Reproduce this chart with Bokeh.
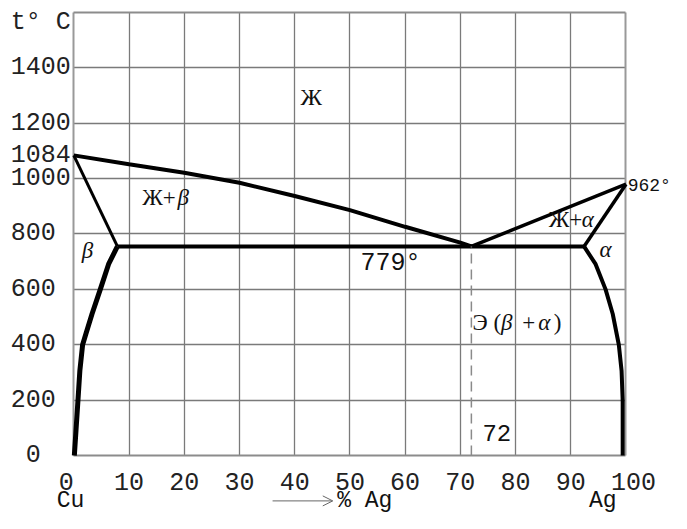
from bokeh.plotting import figure
from bokeh.models import FixedTicker, Label, Arrow, OpenHead, Range1d, Grid
from bokeh.embed import file_html
from bokeh.resources import INLINE

# ---- data ----
liq_cu_x = [0, 10, 20, 30, 40, 50, 60, 70, 72]
liq_cu_t = [1084, 1052, 1021, 985, 937, 886, 826, 769, 755]
sol_cu_x = [0, 7.9]
sol_cu_t = [1084, 755]
eut_x = [7.9, 92.4]
eut_t = [755, 755]
liq_ag_x = [72, 100]
liq_ag_t = [755, 980]
sol_ag_x = [100, 92.4]
sol_ag_t = [980, 755]
solv_b_x = [7.9, 6.3, 4.8, 3.3, 2.2, 1.6, 1.1, 0.76, 0.4, 0.1]
solv_b_t = [755, 691, 600, 511, 440, 400, 306, 200, 90, 0]
solv_a_x = [92.4, 94.5, 96.3, 97.6, 98.7, 99.2, 99.4, 99.4]
solv_a_t = [755, 691, 600, 511, 400, 306, 200, 0]
eut_comp_x = [72, 72]
eut_comp_t = [0, 755]
x_ticks = [0, 10, 20, 30, 40, 50, 60, 70, 80, 90, 100]
x_grid = [10, 20, 30, 40, 50, 60, 70, 80, 90]
y_ticks = [0, 200, 400, 600, 800, 1000, 1084, 1200, 1400]
y_grid = [200, 400, 600, 800, 1000, 1200, 1400]
x_bounds = [0, 100]
t_bounds = [0, 1600]
t_title_pos = 1565
t_title = "t° C"

MONO = "Liberation Mono"
SERIF = "Liberation Serif"
NB = "\u00a0"  # non-breaking space, used only to nudge tick-label alignment

p = figure(width=671, height=513,
           x_range=Range1d(-13.27, 108.24), y_range=Range1d(-209.5, 1643.3),
           output_backend="svg", toolbar_location=None, min_border=0)
p.background_fill_color = "white"
p.border_fill_color = "white"
p.outline_line_color = None

p.xaxis.ticker = FixedTicker(ticks=x_ticks)
p.yaxis.ticker = FixedTicker(ticks=y_ticks + [t_title_pos])
y_over = {t_title_pos: t_title}
for t in y_ticks:
    s = str(t)
    if len(s) == 1:
        y_over[t] = s + NB * 2
    elif len(s) == 3:
        y_over[t] = s + NB
p.yaxis.major_label_overrides = y_over
p.xaxis.major_label_overrides = {x_ticks[0]: str(x_ticks[0]) + NB,
                                 x_ticks[-1]: NB + str(x_ticks[-1])}
p.xaxis.fixed_location = 0
p.yaxis.fixed_location = 0

p.xgrid.ticker = FixedTicker(ticks=x_grid)
p.ygrid.ticker = FixedTicker(ticks=y_grid)
p.xgrid.cross_bounds = (t_bounds[0], t_bounds[1])
p.ygrid.cross_bounds = (x_bounds[0], x_bounds[1])
for g in (p.xgrid, p.ygrid):
    g.grid_line_color = "#7a7a7a"
    g.grid_line_width = 1.3
    g.grid_line_alpha = 1.0
p.add_layout(Grid(dimension=0, ticker=FixedTicker(ticks=x_bounds),
                  cross_bounds=(t_bounds[0], t_bounds[1]),
                  grid_line_color="#999999", grid_line_width=2))
p.add_layout(Grid(dimension=1, ticker=FixedTicker(ticks=t_bounds),
                  cross_bounds=(x_bounds[0], x_bounds[1]),
                  grid_line_color="#8c8c8c", grid_line_width=2))

for ax in (p.xaxis, p.yaxis):
    ax.axis_line_color = None
    ax.major_tick_line_color = None
    ax.minor_tick_line_color = None
    ax.major_tick_out = 0
    ax.major_tick_in = 0
    ax.major_label_text_font = MONO
    ax.major_label_text_font_size = "25px"
    ax.major_label_text_color = "#222222"
p.xaxis.major_label_standoff = 14
p.yaxis.major_label_standoff = 3

lw = dict(color="black")
p.line(liq_cu_x, liq_cu_t, line_width=4, **lw)
p.line(sol_cu_x, sol_cu_t, line_width=3, **lw)
p.line(eut_x, eut_t, line_width=4, **lw)
p.line(liq_ag_x, liq_ag_t, line_width=3.5, **lw)
p.line(sol_ag_x, sol_ag_t, line_width=3.5, **lw)
p.line(solv_b_x, solv_b_t, line_width=5, line_join="round", **lw)
p.line(solv_a_x, solv_a_t, line_width=4, line_join="round", **lw)
p.line(eut_comp_x, eut_comp_t, line_width=1.5, color="#8a8a8a", line_dash="10 6")


def lab(x, y, text, font=SERIF, size="22px", align="left", style="normal", color="#111111"):
    p.add_layout(Label(x=x, y=y, text=text, text_font=font, text_font_size=size,
                       text_align=align, text_baseline="middle", text_font_style=style,
                       text_color=color))


lab(43.0, 1295, "Ж", size="24px", align="center")
lab(12.4, 931, "Ж+", size="23px")
lab(19.8, 931, "β", size="23px", align="center", style="italic")
lab(2.5, 740, "β", size="23px", align="center", style="italic")
lab(51.9, 693, "779°", font=MONO, size="25px")
lab(100.3, 975, "962°", font=MONO, size="18px")
lab(86.0, 852, "Ж+", size="23px")
lab(93.1, 854, "α", size="23px", align="center", style="italic")
lab(96.3, 744, "α", size="23px", align="center", style="italic")
lab(72.2, 480, "Э (", size="23px")
lab(78.4, 480, "β", size="23px", align="center", style="italic")
lab(82.4, 480, "+", size="23px", align="center")
lab(85.2, 480, "α", size="23px", align="center", style="italic")
lab(87.6, 480, ")", size="23px", align="center")
lab(74.0, 80, "72", font=MONO, size="24px")
lab(-0.6, -166, "Cu", font=MONO, size="23px", align="center")
lab(95.8, -166, "Ag", font=MONO, size="23px", align="center")
lab(47.7, -166, "% Ag", font=MONO, size="23px")

p.add_layout(Arrow(end=OpenHead(size=10, line_width=1, line_color="#666666"),
                   x_start=36.0, y_start=-164, x_end=46.9, y_end=-164,
                   line_width=1, line_color="#666666"))

open("out.html", "w").write(file_html(p, INLINE))
